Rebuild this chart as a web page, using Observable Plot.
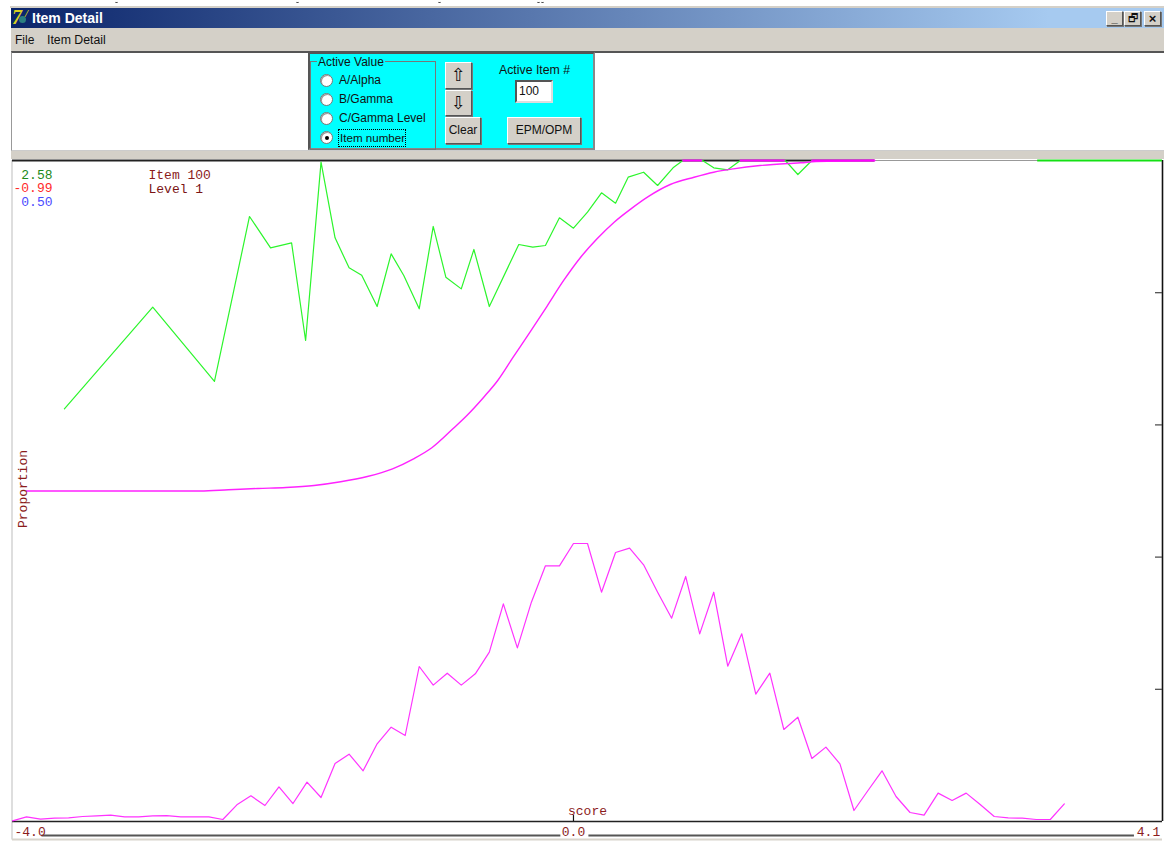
<!DOCTYPE html>
<html>
<head>
<meta charset="utf-8">
<script src="https://cdn.jsdelivr.net/npm/d3@7"></script>
<script src="https://cdn.jsdelivr.net/npm/@observablehq/plot@0.6"></script>
<style>
html,body{margin:0;padding:0;background:#fff;overflow:hidden;}
#win{position:relative;width:1164px;height:159px;font:12px "Liberation Sans",sans-serif;color:#111;overflow:hidden;}
#win div,#win span{position:absolute;box-sizing:border-box;white-space:nowrap;}
.btn{background:#d4d0c8;border:1px solid;border-color:#fff #555 #555 #fff;box-shadow:1px 1px 0 #777;text-align:center;}
.radio{width:13px;height:13px;border-radius:50%;background:#fff;border:1px solid #777;box-shadow:inset 1px 1px 0 #999;}
.dot{left:4px;top:4px;width:4px;height:4px;border-radius:50%;background:#000;}
.frag{top:0;width:3px;height:3px;border-bottom:1px solid #444;border-radius:0 0 3px 3px;}
svg{display:block;}
</style>
</head>
<body>
<div id="win">
  <div class="frag" style="left:115px"></div>
  <div class="frag" style="left:296px"></div>
  <div class="frag" style="left:438px"></div>
  <div class="frag" style="left:537px"></div>
  <div class="frag" style="left:541px"></div>
  <div style="left:10px;top:6px;width:1154px;height:2px;background:#d4d0c8"></div>
  <div style="left:11px;top:8px;width:1153px;height:20px;background:linear-gradient(90deg,#0a246a 0%,#a6caf0 90%,#a6caf0 100%)"></div>
  <span style="left:12px;top:7px;font:italic bold 20px 'Liberation Serif';color:#d8d020;line-height:20px">7</span>
  <div style="left:19px;top:16px;width:7px;height:7px;border-radius:50%;background:#2a7f80"></div>
  <span style="left:25px;top:7px;font:italic bold 11px 'Liberation Serif';color:#d8d020">/</span>
  <span style="left:32px;top:10px;font:bold 14px 'Liberation Sans';color:#fff;line-height:16px">Item Detail</span>
  <div class="btn" style="left:1106px;top:11px;width:17px;height:15px;font:bold 11px/12px 'Liberation Sans'">_</div>
  <div class="btn" style="left:1124px;top:11px;width:17px;height:15px;font:11px/13px 'DejaVu Sans'">🗗</div>
  <div class="btn" style="left:1144px;top:11px;width:17px;height:15px;font:bold 13px/13px 'Liberation Sans'">×</div>

  <div style="left:11px;top:28px;width:1153px;height:24px;background:#d4d0c8"></div>
  <span style="left:15px;top:33px;line-height:14px">File</span>
  <span style="left:47px;top:33px;line-height:14px;font-size:12.3px">Item Detail</span>

  <div style="left:11px;top:51px;width:1153px;height:100px;background:#fff;border-top:2px solid #555;border-bottom:1px solid #ccc;border-left:1px solid #999"></div>
  <div style="left:11px;top:151px;width:1153px;height:8px;background:#d4d0c8"></div>

  <div style="left:308px;top:52px;width:287px;height:98px;background:#0ff;border:2px solid #555;border-right-color:#888;border-bottom-color:#888;"></div>
  <div style="left:310px;top:61px;width:126px;height:89px;border:1px solid #777;"></div>
  <span style="left:317px;top:55px;background:#0ff;line-height:14px;padding:0 1px">Active Value</span>

  <div class="radio" style="left:320px;top:74px"></div><span style="left:339px;top:73px;line-height:14px">A/Alpha</span>
  <div class="radio" style="left:320px;top:93px"></div><span style="left:339px;top:92px;line-height:14px">B/Gamma</span>
  <div class="radio" style="left:320px;top:112px"></div><span style="left:339px;top:111px;line-height:14px">C/Gamma Level</span>
  <div class="radio" style="left:320px;top:131px"><div class="dot"></div></div>
  <span style="left:338px;top:129px;height:18px;border:1px dotted #000;line-height:15px;padding:0 0 0 1px;font-size:11.6px">Item number</span>

  <div class="btn" style="left:445px;top:62px;width:27px;height:27px;font:18px/24px 'DejaVu Sans'">⇧</div>
  <div class="btn" style="left:445px;top:90px;width:27px;height:26px;font:18px/23px 'DejaVu Sans'">⇩</div>
  <div class="btn" style="left:445px;top:117px;width:36px;height:27px;line-height:25px">Clear</div>
  <span style="left:499px;top:63px;line-height:14px;font-size:12.3px">Active Item #</span>
  <div style="left:515px;top:80px;width:38px;height:23px;background:#fff;border:2px solid;border-color:#555 #ddd #ddd #555;line-height:19px;padding-left:2px">100</div>
  <div class="btn" style="left:507px;top:117px;width:74px;height:27px;line-height:25px">EPM/OPM</div>
</div>
<div id="chart"></div>
<script>
// Empirical proportion (green)
const greenScore = [-3.63,-3.00,-2.56,-2.31,-2.16,-2.01,-1.91,-1.80,-1.70,-1.60,-1.51,-1.40,-1.30,-1.21,-1.10,-1.00,-0.91,-0.80,-0.71,-0.60,-0.39,-0.29,-0.20,-0.10,0,0.10,0.20,0.30,0.39,0.50,0.60,0.71,0.78,0.92,1.00,1.10,1.19,1.51,1.60,1.70];
const greenProp  = [.6243,.7781,.6657,.9153,.8679,.8754,.7277,.9975,.8830,.8376,.8265,.7791,.8588,.8260,.7756,.9002,.8235,.8058,.8654,.7791,.8729,.8689,.8714,.9133,.8976,.9218,.9511,.9354,.9748,.9823,.9622,.9889,1,1,.9889,.9859,1,1,.9788,1];
// Item characteristic curve (magenta)
const iccScore = [-3.90,-2.66,-2.46,-2.25,-2.05,-1.85,-1.66,-1.47,-1.29,-1.14,-1.01,-0.86,-0.76,-0.64,-0.54,-0.43,-0.31,-0.19,-0.07,0.05,0.17,0.29,0.41,0.53,0.69,0.86,1.00,1.14,1.33,1.53,1.62,1.73,2.15];
const iccProp  = [.5,.5,.5018,.5038,.5053,.5083,.5139,.5219,.5336,.5487,.5654,.5941,.6142,.6419,.6672,.7024,.7402,.7791,.8185,.8533,.8820,.9067,.9269,.9450,.9637,.9747,.9823,.9874,.9924,.9955,.9965,.9985,1];
// Score distribution (magenta, lower)
const distScore = [-4.0,-3.9,-3.8,-3.7,-3.6,-3.5,-3.4,-3.3,-3.2,-3.1,-3.0,-2.9,-2.8,-2.7,-2.6,-2.5,-2.4,-2.3,-2.2,-2.1,-2.0,-1.9,-1.8,-1.7,-1.6,-1.5,-1.4,-1.3,-1.2,-1.1,-1.0,-0.9,-0.8,-0.7,-0.6,-0.5,-0.4,-0.3,-0.2,-0.1,0,0.1,0.2,0.3,0.4,0.5,0.6,0.7,0.8,0.9,1.0,1.1,1.2,1.3,1.4,1.5,1.6,1.7,1.8,1.9,2.0,2.1,2.2,2.3,2.4,2.5,2.6,2.7,2.8,2.9,3.0,3.1,3.2,3.3,3.4,3.5];
const distProp = [.001,.007,.0035,.005,.0055,.0076,.0086,.0096,.007,.007,.0086,.009,.007,.007,.007,.003,.0252,.0388,.0242,.0524,.0272,.0595,.0363,.0877,.1019,.0767,.1175,.1427,.1301,.2345,.2063,.2244,.2063,.2234,.2562,.3293,.2627,.3318,.3868,.3868,.4206,.4206,.3469,.4070,.4135,.3883,.3469,.3076,.3707,.2839,.3469,.2350,.2839,.1926,.2244,.1392,.1578,.0953,.1125,.0872,.0166,.0469,.0767,.0378,.0136,.0096,.0429,.0318,.0429,.0257,.0076,.0055,.005,.003,.003,.0267];
// Stretches lying on the top line
const topMagentaFrom = [0.78,1.19,1.70];
const topMagentaTo   = [0.92,1.51,2.15];
const topGreenFrom = [3.31];
const topGreenTo   = [4.20];
// Axes and labels
const xTickLabels = ["-4.0","0.0","4.1"];
const xTickValues = [-4,0,4.1];
const yTickValues = [.2,.4,.6,.8];
const paramLabels = ["2.58","-0.99","0.50"];
const paramColors = ["#1c8a1c","#ff2a2a","#4a4aff"];
const itemLabels = ["Item 100","Level 1"];

const brown = "#8b1c1c";
const font = {fontFamily:"'Liberation Mono',monospace", fontSize:13};

const svg = Plot.plot({
  width:1164, height:683,
  marginTop:1, marginBottom:21, marginLeft:12, marginRight:2,
  x:{domain:[-4,4.2], axis:null},
  y:{domain:[0,1], axis:null},
  style:{background:"white", overflow:"visible"},
  marks:[
    Plot.ruleX([-4],{y1:-0.028,y2:1,stroke:"#c8c8c8",strokeWidth:1.2,dx:-0.5}),
    Plot.ruleX([4.2],{y1:0,y2:1,stroke:"#111",strokeWidth:1.6}),
    Plot.ruleY([1],{x1:-4,x2:2.15,stroke:"#222",strokeWidth:1.8}),
    Plot.ruleY([1],{x1:2.15,x2:4.2,stroke:"#999",strokeWidth:1.2}),
    Plot.ruleY([0],{x1:-4,x2:4.2,stroke:"#222",strokeWidth:1.4}),
    Plot.ruleY(yTickValues,{x1:4.15,x2:4.2,stroke:"#444",strokeWidth:1.2}),
    Plot.ruleX([0],{y1:0,y2:0.009,stroke:"#111",strokeWidth:1.2}),
    // bottom grey strip, broken by the tick labels
    Plot.ruleY([0],{x1:-3.79,x2:-0.09,dy:14,stroke:"#555",strokeWidth:2}),
    Plot.ruleY([0],{x1:0.11,x2:4.0,dy:14,stroke:"#555",strokeWidth:2}),
    Plot.ruleY([0],{x1:-4,x2:4.2,dy:18,stroke:"#d8d4cc",strokeWidth:2}),
    Plot.line(greenProp,{x:greenScore,y:greenProp,stroke:"#2cf52c",strokeWidth:1.2}),
    Plot.ruleY(topGreenFrom,{y:()=>1,x1:topGreenFrom,x2:topGreenTo,stroke:"#14e014",strokeWidth:2}),
    Plot.line(iccProp,{x:iccScore,y:iccProp,curve:"monotone-x",stroke:"#ff22ff",strokeWidth:1.4}),
    Plot.ruleY(topMagentaFrom,{y:()=>1,x1:topMagentaFrom,x2:topMagentaTo,stroke:"#ff00ff",strokeWidth:2}),
    Plot.line(distProp,{x:distScore,y:distProp,stroke:"#ff33ff",strokeWidth:1.2}),
    // left parameter read-outs
    Plot.text([paramLabels[0]],{text:d=>d,frameAnchor:"top-left",textAnchor:"end",lineAnchor:"middle",dx:40,dy:14,...font,fill:paramColors[0]}),
    Plot.text([paramLabels[1]],{text:d=>d,frameAnchor:"top-left",textAnchor:"end",lineAnchor:"middle",dx:40,dy:27.5,...font,fill:paramColors[1]}),
    Plot.text([paramLabels[2]],{text:d=>d,frameAnchor:"top-left",textAnchor:"end",lineAnchor:"middle",dx:40,dy:41,...font,fill:paramColors[2]}),
    Plot.text([itemLabels[0]],{text:d=>d,frameAnchor:"top-left",textAnchor:"start",lineAnchor:"middle",dx:136,dy:14,...font,fill:brown}),
    Plot.text([itemLabels[1]],{text:d=>d,frameAnchor:"top-left",textAnchor:"start",lineAnchor:"middle",dx:136,dy:28,...font,fill:"#7a1414"}),
    Plot.text(["Proportion"],{text:d=>d,frameAnchor:"left",rotate:-90,textAnchor:"middle",lineAnchor:"middle",dx:10,dy:-2,...font,fill:brown}),
    Plot.text(["score"],{text:d=>d,x:[0],frameAnchor:"bottom",textAnchor:"middle",lineAnchor:"middle",dx:14,dy:-11,...font,fill:brown}),
    Plot.text([xTickLabels[0]],{text:d=>d,x:[xTickValues[0]],frameAnchor:"bottom",textAnchor:"start",lineAnchor:"middle",dx:2,dy:10,...font,fill:brown}),
    Plot.text([xTickLabels[1]],{text:d=>d,x:[xTickValues[1]],frameAnchor:"bottom",textAnchor:"middle",lineAnchor:"middle",dy:10,...font,fill:brown}),
    Plot.text([xTickLabels[2]],{text:d=>d,x:[xTickValues[2]],frameAnchor:"bottom",textAnchor:"middle",lineAnchor:"middle",dy:10,...font,fill:brown})
  ]
});
document.getElementById("chart").appendChild(svg);
</script>
</body>
</html>
